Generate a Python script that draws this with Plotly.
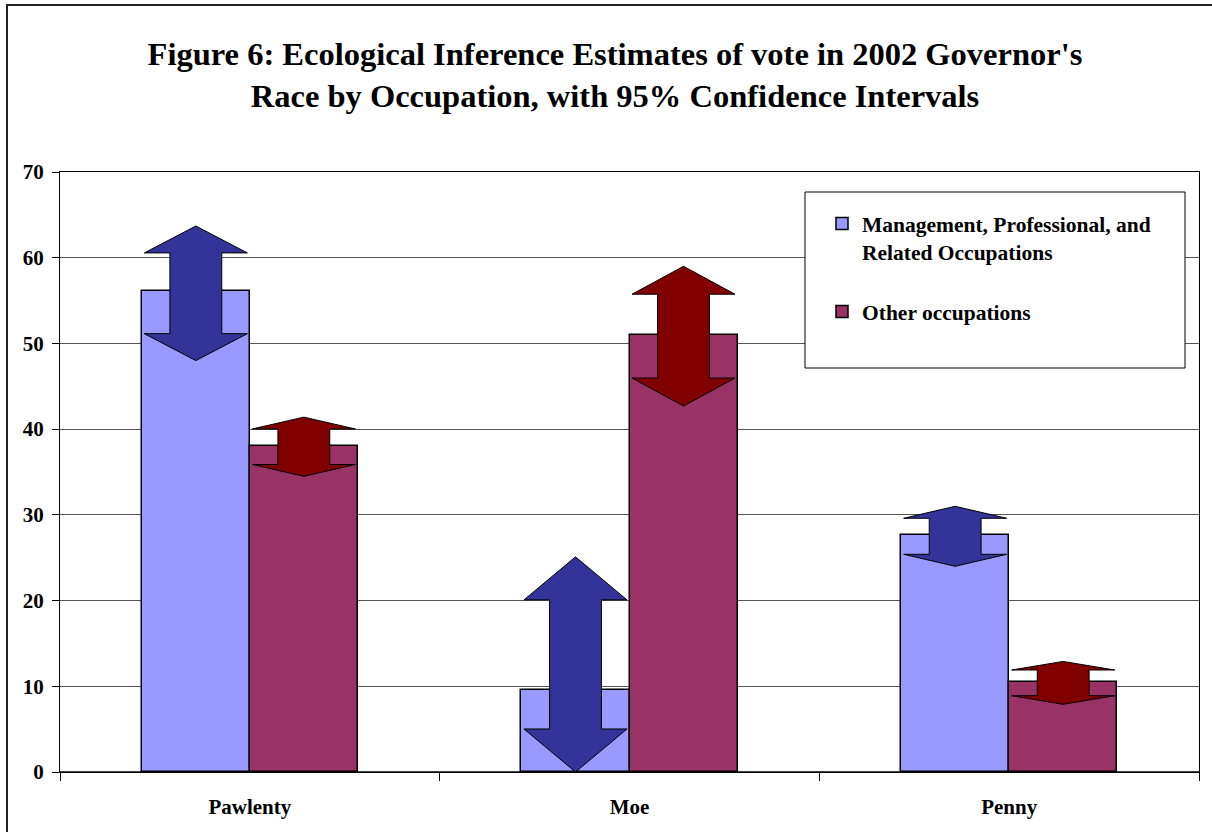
import plotly.graph_objects as go

# ---- data ----
candidates = ["Pawlenty", "Moe", "Penny"]
series_names = ["Management, Professional, and<br>Related Occupations", "Other occupations"]
mgmt_vals = [56.1, 9.6, 27.6]
other_vals = [38.0, 51.0, 10.5]
mgmt_ci_low = [48.0, 0.0, 24.0]
mgmt_ci_high = [63.7, 25.1, 31.0]
other_ci_low = [34.5, 42.7, 7.9]
other_ci_high = [41.4, 59.0, 12.9]
y_ticks = [0, 10, 20, 30, 40, 50, 60, 70]

# ---- layout geometry ----
W, H = 1212, 832
ML, MR, MT, MB = 60, 13, 172, 60
PW, PH = W - ML - MR, H - MT - MB

def px_x(p):
    return (p - ML) / PW

def px_y(p):
    return (H - MB - p) / PH

BAR_W = 0.2845
HEAD_HALF = 0.477 * BAR_W
SHAFT_HALF = 0.24 * BAR_W
HEAD_FRAC = 0.2

MGMT_COLOR = "#9999FF"
OTHER_COLOR = "#993366"
MGMT_ARROW = "#333399"
OTHER_ARROW = "#800000"
FONT = "Liberation Serif, Times New Roman, serif"

xs = list(range(len(candidates)))

fig = go.Figure()
fig.add_trace(go.Bar(
    x=xs, y=mgmt_vals, width=BAR_W, offset=-BAR_W, name=series_names[0],
    marker=dict(color=MGMT_COLOR, line=dict(color="black", width=1.5)),
    legendgroup="a", hoverinfo="y",
))
fig.add_trace(go.Bar(
    x=xs, y=other_vals, width=BAR_W, offset=0, name=series_names[1],
    marker=dict(color=OTHER_COLOR, line=dict(color="black", width=1.5)),
    legendgroup="b", hoverinfo="y",
))

def arrow(cx, lo, hi):
    d = HEAD_FRAC * (hi - lo)
    ax = [cx, cx + HEAD_HALF, cx + SHAFT_HALF, cx + SHAFT_HALF, cx + HEAD_HALF, cx,
          cx - HEAD_HALF, cx - SHAFT_HALF, cx - SHAFT_HALF, cx - HEAD_HALF, cx]
    ay = [hi, hi - d, hi - d, lo + d, lo + d, lo, lo + d, lo + d, hi - d, hi - d, hi]
    return ax, ay

for i in xs:
    for center, lo, hi, col in [
        (i - BAR_W / 2, mgmt_ci_low[i], mgmt_ci_high[i], MGMT_ARROW),
        (i + BAR_W / 2, other_ci_low[i], other_ci_high[i], OTHER_ARROW),
    ]:
        ax, ay = arrow(center, lo, hi)
        fig.add_trace(go.Scatter(
            x=ax, y=ay, mode="lines", fill="toself", fillcolor=col,
            line=dict(color="black", width=1), showlegend=False, hoverinfo="skip",
        ))

shapes = [
    # outer chart border (left & top visible)
    dict(type="rect", xref="paper", yref="paper",
         x0=px_x(7), x1=px_x(W + 10), y0=px_y(H + 10), y1=px_y(5),
         line=dict(color="#222222", width=2), fillcolor="rgba(0,0,0,0)", layer="above"),
    # legend box
    dict(type="rect", xref="paper", yref="paper",
         x0=px_x(805), x1=px_x(1185), y0=px_y(368), y1=px_y(192),
         line=dict(color="black", width=1), fillcolor="white", layer="above"),
]

fig.update_layout(
    width=W, height=H,
    margin=dict(l=ML, r=MR, t=MT, b=MB, pad=0, autoexpand=False),
    paper_bgcolor="white", plot_bgcolor="white",
    font=dict(family=FONT, color="black", size=21),
    title=dict(
        text="<b>Figure 6: Ecological Inference Estimates of vote in 2002 Governor's<br>Race by Occupation, with 95% Confidence Intervals</b>",
        x=615 / W, xref="container", xanchor="center",
        y=1 - 64.5 / H, yref="container", yanchor="middle",
        font=dict(family=FONT, size=32.5, color="black"),
        automargin=False,
    ),
    showlegend=True,
    legend=dict(
        x=px_x(822), y=px_y(203), xanchor="left", yanchor="top",
        bgcolor="rgba(0,0,0,0)", borderwidth=0,
        font=dict(family=FONT, size=21.5, color="black", weight="bold"),
        traceorder="grouped", tracegroupgap=29, valign="top",
    ),
    shapes=shapes,
    bargap=0,
)

fig.update_xaxes(
    automargin=False,
    range=[-0.5, 2.5], tickmode="array", tickvals=xs,
    ticktext=["<b>%s</b>" % c for c in candidates], ticks="",
    showline=True, linecolor="black", linewidth=1, mirror=True,
    showgrid=False, zeroline=False, ticklabelstandoff=16,
    tickfont=dict(family=FONT, size=21, color="black"),
    minor=dict(tickmode="array", tickvals=[-0.5, 0.5, 1.5, 2.5], ticks="outside",
               ticklen=8, tickcolor="black", tickwidth=1, showgrid=False),
)
fig.update_yaxes(
    automargin=False,
    range=[0, 70], tickmode="array", tickvals=y_ticks,
    ticktext=["<b>%d</b>" % v for v in y_ticks],
    ticks="outside", ticklen=7, tickcolor="black", tickwidth=1,
    showline=True, linecolor="black", linewidth=1, mirror=True,
    showgrid=True, gridcolor="#555555", gridwidth=1,
    zeroline=True, zerolinecolor="#404040", zerolinewidth=2,
    ticklabelstandoff=4,
    tickfont=dict(family=FONT, size=21, color="black"),
)

fig.write_html("out.html")
